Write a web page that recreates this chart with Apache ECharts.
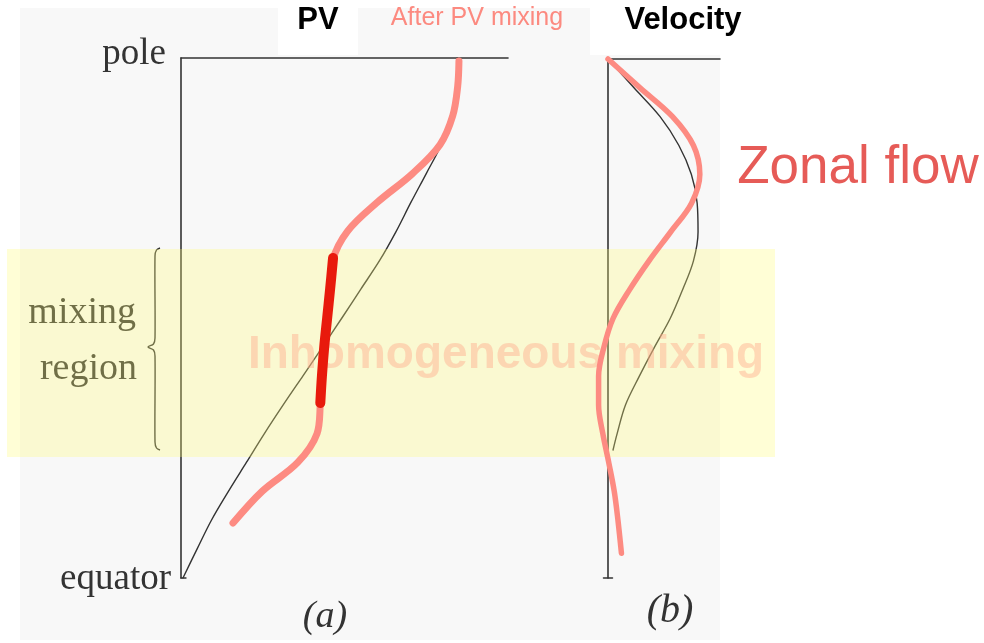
<!DOCTYPE html>
<html><head><meta charset="utf-8">
<script src="https://cdn.jsdelivr.net/npm/echarts@6/dist/echarts.min.js"></script>
<style>html,body{margin:0;padding:0;background:#fff}#c{width:984px;height:643px}</style>
</head><body><div id="c"></div>
<script>
// Panel (a): potential vorticity profiles vs latitude (0 = equator, 90 = pole)
const latPvBefore = [0, 5, 10, 15, 20, 25, 30, 35, 40, 45, 50, 55, 60, 65, 70, 75, 80, 85, 90];
const pvBefore    = [0.6, 4.9, 9.3, 14.5, 20.0, 25.5, 31.3, 37.3, 43.3, 49.2, 55.0, 60.8, 65.8, 70.3, 75.0, 79.6, 83.0, 84.2, 84.5];
const latPvAfter  = [9.5, 15, 20, 25, 30, 35, 40, 45, 50, 55, 60, 65, 70, 75, 80, 85, 89.5];
const pvAfter     = [15.9, 24.8, 35.7, 41.6, 42.6, 43.1, 43.8, 44.7, 45.6, 46.4, 50.9, 60.0, 70.8, 79.2, 83.1, 84.6, 85.0];
const latPvMixed  = [30.3, 35, 40, 45, 50, 55.4];
const pvMixed     = [42.6, 43.1, 43.8, 44.7, 45.6, 46.5];
// Panel (b): zonal velocity profiles vs latitude
const latVelBefore = [22.2, 25, 30, 35, 40, 45, 50, 55, 60, 65, 70, 75, 80, 85, 90];
const velBefore    = [4.5, 8.1, 15.6, 28.0, 41.4, 55.5, 66.6, 76.3, 80.4, 79.6, 74.4, 63.3, 46.5, 23.2, 0];
const latVelAfter  = [4.3, 10, 15, 20, 25, 30, 35, 40, 45, 50, 55, 60, 65, 70, 75, 80, 85, 90];
const velAfter     = [12.0, 8.9, 5.6, 0.7, -4.6, -8.4, -8.4, -3.7, 4.5, 19.3, 36.6, 55.9, 74.6, 82.0, 76.3, 57.6, 28.6, 0];
const poleLineB    = [0, 100];
const equatorTickA = [0, 1.5];
const equatorTickB = [-4, 4];

const zip = (xs, ys) => xs.map((x, i) => [x, ys[i]]);
const INK = '#333';
const PINK = '#fd8b82';

const noAxisBits = { axisTick: { show: false }, axisLabel: { show: false }, splitLine: { show: false } };
const line = (gi, data, color, width, z, smooth) => ({
  type: 'line', xAxisIndex: gi, yAxisIndex: gi, data, smooth: smooth === undefined ? 0.35 : smooth,
  showSymbol: false, clip: false, z, silent: true,
  lineStyle: { color, width, cap: 'round', join: 'round' }
});

const chart = echarts.init(document.getElementById('c'), null, { renderer: 'canvas' });
chart.setOption({
  animation: false,
  backgroundColor: '#ffffff',
  grid: [
    { left: 181, top: 58, width: 327, height: 520 },
    { left: 594.56, top: 59, width: 125.44, height: 519 }
  ],
  xAxis: [
    Object.assign({ type: 'value', gridIndex: 0, min: 0, max: 100, position: 'top',
      axisLine: { show: true, onZero: false, lineStyle: { color: INK, width: 1.6 } } }, noAxisBits),
    Object.assign({ type: 'value', gridIndex: 1, min: -12, max: 100, position: 'top',
      axisLine: { show: false } }, noAxisBits)
  ],
  yAxis: [
    Object.assign({ type: 'value', gridIndex: 0, min: 0, max: 90,
      axisLine: { show: true, onZero: false, lineStyle: { color: INK, width: 1.6 } } }, noAxisBits),
    Object.assign({ type: 'value', gridIndex: 1, min: 0, max: 90,
      axisLine: { show: true, onZero: true, lineStyle: { color: INK, width: 1.6 } } }, noAxisBits)
  ],
  series: [
    line(0, zip(pvBefore, latPvBefore), INK, 1.4, 2),
    line(0, zip(pvAfter, latPvAfter), PINK, 7, 6),
    line(0, zip(pvMixed, latPvMixed), '#e81a0c', 10, 7),
    line(1, zip(velBefore, latVelBefore), INK, 1.4, 2),
    line(1, zip(velAfter, latVelAfter), PINK, 5.5, 6),
    line(1, zip(poleLineB, [90, 90]), INK, 1.6, 2, false),
    line(0, zip(equatorTickA, [0, 0]), INK, 1.6, 2, false),
    line(1, zip(equatorTickB, [0, 0]), INK, 1.6, 2, false)
  ],
  graphic: [
    { type: 'rect', z: -10, silent: true, shape: { x: 20, y: 8, width: 700, height: 632 }, style: { fill: '#f8f8f8' } },
    { type: 'rect', z: -9, silent: true, shape: { x: 278, y: 8, width: 80, height: 47 }, style: { fill: '#ffffff' } },
    { type: 'rect', z: -9, silent: true, shape: { x: 590, y: 0, width: 130, height: 55 }, style: { fill: '#ffffff' } },
    // serif labels (under the yellow overlay)
    { type: 'text', z: 1, silent: true, x: 166, y: 54, style: { text: 'pole', font: '37px "Liberation Serif", serif', fill: INK, align: 'right', verticalAlign: 'middle' } },
    { type: 'text', z: 1, silent: true, x: 171, y: 579, style: { text: 'equator', font: '37px "Liberation Serif", serif', fill: INK, align: 'right', verticalAlign: 'middle' } },
    { type: 'text', z: 1, silent: true, x: 136, y: 313, style: { text: 'mixing', font: '38px "Liberation Serif", serif', fill: INK, align: 'right', verticalAlign: 'middle' } },
    { type: 'text', z: 1, silent: true, x: 137, y: 369, style: { text: 'region', font: '38px "Liberation Serif", serif', fill: INK, align: 'right', verticalAlign: 'middle' } },
    { type: 'text', z: 1, silent: true, x: 325, y: 617, style: { text: '(a)', font: 'italic 38px "Liberation Serif", serif', fill: INK, align: 'center', verticalAlign: 'middle' } },
    { type: 'text', z: 1, silent: true, x: 670, y: 611, style: { text: '(b)', font: 'italic 40px "Liberation Serif", serif', fill: INK, align: 'center', verticalAlign: 'middle' } },
    { type: 'polyline', z: 1, silent: true, shape: { smooth: 0.3, points: [[160,248],[156.5,250],[155,256],[155,338],[153.5,344],[148,347],[153.5,350],[155,356],[155,442],[156.5,448],[160,450]] }, style: { fill: null, stroke: INK, lineWidth: 1.4 } },
    // yellow mixing-region overlay
    { type: 'rect', z: 4, silent: true, shape: { x: 7, y: 249, width: 768, height: 208 }, style: { fill: 'rgba(255,251,120,0.3)' } },
    { type: 'text', z: 5, silent: true, x: 506, y: 355, style: { text: 'Inhomogeneous mixing', font: 'bold 46px "Liberation Sans", Arial, sans-serif', fill: 'rgba(255,168,135,0.42)', align: 'center', verticalAlign: 'middle' } },
    // titles
    { type: 'text', z: 5, silent: true, x: 318, y: 20, style: { text: 'PV', font: 'bold 31px "Liberation Sans", Arial, sans-serif', fill: '#000', align: 'center', verticalAlign: 'middle' } },
    { type: 'text', z: 5, silent: true, x: 477, y: 18, style: { text: 'After PV mixing', font: '25px "Liberation Sans", Arial, sans-serif', fill: '#fc8a80', align: 'center', verticalAlign: 'middle' } },
    { type: 'text', z: 5, silent: true, x: 683, y: 20, style: { text: 'Velocity', font: 'bold 31px "Liberation Sans", Arial, sans-serif', fill: '#000', align: 'center', verticalAlign: 'middle' } },
    { type: 'text', z: 5, silent: true, x: 858, y: 168, style: { text: 'Zonal flow', font: '53px "Liberation Sans", Arial, sans-serif', fill: '#e65b57', align: 'center', verticalAlign: 'middle' } }
  ]
});
</script>
</body></html>
